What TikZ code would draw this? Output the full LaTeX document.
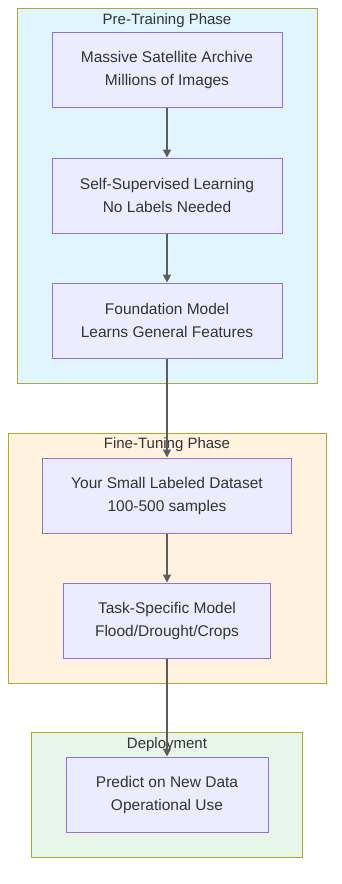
\documentclass[tikz,border=0pt]{standalone}
\usepackage{fontspec}
\setmainfont{Liberation Sans}
\usetikzlibrary{arrows.meta,positioning}
\definecolor{boxFill}{HTML}{ECECFF}
\definecolor{boxLine}{HTML}{9370DB}
\definecolor{groupLine}{HTML}{AAAA33}
\definecolor{preFill}{HTML}{E1F5FE}
\definecolor{fineFill}{HTML}{FFF3E0}
\definecolor{deployFill}{HTML}{E8F5E9}
\definecolor{inkGray}{HTML}{333333}

\begin{document}
\begin{tikzpicture}[
    x=1pt, y=-1pt,
    step box/.style={rectangle, draw=boxLine, fill=boxFill, line width=1pt,
                     minimum height=75pt, align=center, text=inkGray,
                     font=\fontsize{15.5}{23}\selectfont},
    group/.style={draw=groupLine, line width=1pt},
    group title/.style={text=inkGray, font=\fontsize{15}{17}\selectfont},
    flow/.style={draw=inkGray!80, line width=1.6pt,
                 -{Triangle[length=8pt,width=8pt]}}
  ]
  \useasboundingbox (0,0) rectangle (342,884);

  % phase frames
  \draw[group, fill=preFill]    (17,8)   rectangle (317,383);
  \draw[group, fill=fineFill]   (8,433)  rectangle (326,683);
  \draw[group, fill=deployFill] (31,732) rectangle (302,857);
  \node[group title] (preT)    at (167,20.5)  {Pre-Training Phase};
  \node[group title] (fineT)   at (167,444.5) {Fine-Tuning Phase};
  \node[group title] (deployT) at (167,744.5) {Deployment};

  % steps
  \node[step box, minimum width=230pt] (archive)  at (167,70)
    {Massive Satellite Archive\\Millions of Images};
  \node[step box, minimum width=230pt] (selfsup)  at (167,195.5)
    {Self-Supervised Learning\\No Labels Needed};
  \node[step box, minimum width=230pt] (found)    at (167,320.5)
    {Foundation Model\\Learns General Features};
  \node[step box, minimum width=249pt] (labeled)  at (167,495.5)
    {Your Small Labeled Dataset\\100-500 samples};
  \node[step box, minimum width=207pt] (task)     at (167,620.5)
    {Task-Specific Model\\Flood/Drought/Crops};
  \node[step box, minimum width=202pt] (predict)  at (167,794.5)
    {Predict on New Data\\Operational Use};

  \draw[flow] (archive) -- (selfsup);
  \draw[flow] (selfsup) -- (found);
  \draw[flow] (found)   -- (labeled);
  \draw[flow] (labeled) -- (task);
  \draw[flow] (task)    -- (predict);
\end{tikzpicture}
\end{document}
